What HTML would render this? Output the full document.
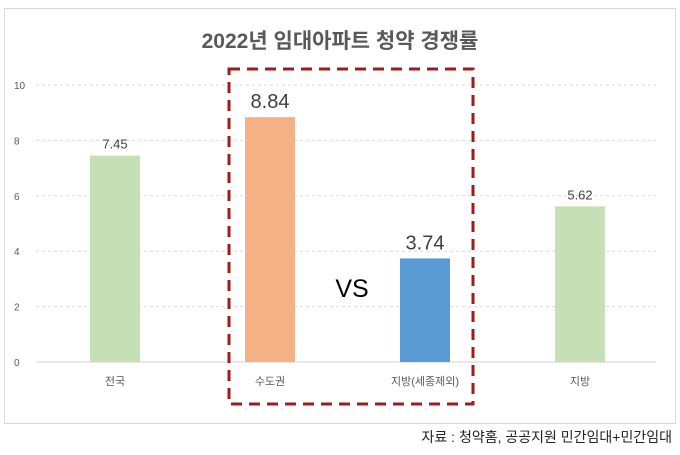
<!DOCTYPE html>
<html><head><meta charset="utf-8"><style>
body{margin:0;background:#fff;width:680px;height:450px;overflow:hidden;font-family:"Liberation Sans","Noto Sans CJK KR",sans-serif}
</style></head><body>
<svg width="680" height="450" style="font-family:'Liberation Sans','Noto Sans CJK KR',sans-serif">
<rect x="4.5" y="8.5" width="671" height="415" fill="#fff" stroke="#d9d9d9"/>
<text x="340" y="48" text-anchor="middle" font-size="21" font-weight="bold" fill="#595959">2022년 임대아파트 청약 경쟁률</text>
<g id="grid"></g><g id="bars"></g>
<rect x="229" y="69" width="244" height="335" fill="none" stroke="#a01b1b" stroke-width="3" stroke-dasharray="11,7"/>
<text x="352" y="297" text-anchor="middle" font-size="25" fill="#000">VS</text>
<text x="672" y="442" text-anchor="end" font-size="14" fill="#222">자료 : 청약홈, 공공지원 민간임대+민간임대</text>
</svg>
<script>
const categories=["전국","수도권","지방(세종제외)","지방"];
const values=[7.45,8.84,3.74,5.62];
const labels=["7.45","8.84","3.74","5.62"];
const colors=["#c5e0b4","#f4b183","#5b9bd5","#c5e0b4"];
const ticks=[0,2,4,6,8,10];
const NS="http://www.w3.org/2000/svg";
const y=v=>362-v*27.7;
const x=i=>115+i*155;
function mk(t,a,p){const e=document.createElementNS(NS,t);for(const k in a)e.setAttribute(k,a[k]);p.appendChild(e);return e;}
const g=document.getElementById('grid'),b=document.getElementById('bars');
ticks.forEach(t=>{
 const l=mk('line',{x1:36,x2:656,y1:y(t),y2:y(t),stroke:t?'#d9d9d9':'#d0d0d0','stroke-dasharray':t?'3,3':''},g);
 
 
 const tx=mk('text',{x:14,y:y(t)+4,'font-size':10,fill:'#595959'},g);tx.textContent=t;
 
 
});
categories.forEach((c,i)=>{
 const r=mk('rect',{x:x(i)-25,y:y(values[i]),width:50,height:y(0)-y(values[i]),fill:colors[i]},b);
 
 
 const big=(i==1||i==2);
 const v=mk('text',{x:x(i),y:y(values[i])-(big?9:7),'text-anchor':'middle','font-size':big?20:13,fill:big?'#404040':'#404040'},b);v.textContent=labels[i];
 
 
 const cl=mk('text',{x:x(i),y:385,'text-anchor':'middle','font-size':11,fill:'#595959'},b);cl.textContent=c;
 
 
});
</script>
</body></html>
